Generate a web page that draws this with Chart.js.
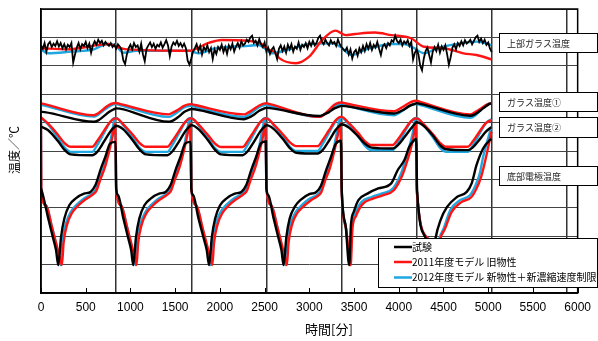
<!DOCTYPE html>
<html>
<head>
<meta charset="utf-8">
<script src="https://cdn.jsdelivr.net/npm/chart.js@4.4.1/dist/chart.umd.min.js"></script>
<style>
html, body { margin: 0; padding: 0; background: #fff; }
</style>
</head>
<body>
<canvas id="tempChart" width="598" height="341"></canvas>
<script>
// series / labels
const seriesNames = ['試験', '2011年度モデル 旧物性', '2012年度モデル 新物性＋新濃縮速度制限'];
const groupLabels = ['上部ガラス温度', 'ガラス温度①', 'ガラス温度②', '底部電極温度'];
const seriesColors = ['#000000', '#ff1414', '#1ea7e1'];
const cycleLines = [840, 1680, 2520, 3360, 4200, 5040, 5880];

// upper glass temperature
const topRedT = [0, 297, 628, 756, 848, 958, 1655, 1875, 2022, 2316, 2463, 2536, 2609, 2668, 2851, 2998, 3145, 3292, 3402, 3512, 3732, 3916, 4136, 4283, 4503, 4723, 4869, 5035];
const topRedV = [862, 858, 873, 877, 867, 858, 853, 881, 891, 888, 877, 858, 849, 826, 809, 832, 891, 924, 908, 912, 917, 908, 897, 867, 862, 844, 838, 823];
const topBlueT = [0, 77, 334, 591, 738, 829, 921, 1068, 1655, 1765, 1949, 2316, 2426, 2536, 2576, 2778, 2998, 3255, 3347, 3475, 3622, 3916, 4063, 4173, 4283, 4429, 4576, 4869, 5035];
const topBlueV = [858, 844, 850, 858, 877, 873, 846, 853, 853, 844, 862, 870, 873, 853, 844, 858, 877, 879, 867, 838, 856, 877, 877, 862, 844, 862, 873, 885, 873];
// measured values, one every 20 min
const topBlackStep = 20;
const topBlackV = [
  872, 860, 880, 850, 876, 884, 866, 878, 870, 886,
  868, 880, 862, 876, 858, 874, 866, 880, 812, 840,
  864, 880, 858, 876, 870, 884, 862, 878, 846, 872,
  886, 874, 892, 880, 888, 872, 884, 876, 870, 880,
  866, 874, 860, 876, 868, 856, 820, 806, 840, 862,
  874, 858, 880, 866, 872, 850, 878, 840, 816, 860,
  872, 882, 866, 878, 860, 874, 868, 882, 864, 876,
  890, 872, 834, 868, 882, 874, 888, 870, 880, 866,
  878, 862, 818, 804, 826, 850, 862, 876, 852, 870,
  840, 866, 854, 872, 848, 862, 824, 858, 842, 866,
  856, 874, 848, 866, 842, 872, 858, 878, 850, 868,
  880, 864, 886, 872, 878, 892, 884, 900, 906, 880,
  888, 872, 894, 876, 866, 882, 850, 864, 842, 858,
  866, 846, 824, 860, 872, 852, 868, 846, 874, 858,
  876, 850, 868, 860, 882, 856, 874, 866, 880, 862,
  884, 870, 888, 872, 880, 898, 906, 886, 876, 892,
  880, 872, 890, 878, 884, 870, 892, 876, 866, 858,
  852, 864, 840, 858, 826, 848, 856, 836, 862, 848,
  870, 852, 876, 860, 880, 856, 874, 864, 884, 860,
  838, 868, 876, 862, 880, 872, 890, 884, 906, 888,
  880, 892, 872, 886, 878, 890, 870, 884, 822, 846,
  858, 840, 800, 784, 826, 852, 864, 838, 812, 850,
  866, 852, 874, 846, 868, 856, 872, 842, 804, 830,
  864, 876, 858, 880, 870, 886, 872, 890, 878, 884,
  892, 876, 888, 900, 906, 884, 896, 880, 892, 874,
  882, 860, 848];

// glass temperature 1
const g1T = [0, 40, 590, 640, 700, 760, 810, 840, 880, 1430, 1480, 1540, 1600, 1650, 1680, 1720, 2270, 2320, 2380, 2440, 2490,
  2520, 2560, 3110, 3160, 3220, 3280, 3330, 3360, 3400, 3950, 4000, 4060, 4120, 4170, 4200, 4240, 4800, 4850, 4910, 4970, 5010, 5035];
const g1Black = [638, 637, 603, 608, 622, 637, 646, 650, 649, 603, 608, 621, 637, 645, 648, 647, 612, 617, 628, 642, 649,
  652, 651, 623, 628, 637, 650, 656, 659, 658, 632, 637, 646, 659, 665, 668, 666, 624, 629, 642, 657, 665, 668];
const g1Red = [668, 665, 626, 633, 648, 662, 668, 669, 666, 629, 636, 647, 659, 664, 665, 662, 629, 636, 648, 660, 667,
  668, 665, 620, 627, 645, 663, 670, 671, 668, 640, 647, 658, 670, 676, 677, 673, 629, 636, 648, 661, 667, 668];
const g1Blue = [663, 660, 621, 628, 643, 656, 664, 665, 662, 620, 627, 640, 653, 658, 659, 656, 620, 627, 641, 655, 661,
  662, 659, 620, 627, 642, 657, 663, 664, 661, 626, 633, 646, 659, 664, 665, 662, 617, 624, 642, 659, 667, 668];

// glass temperature 2
const g2T = [0, 77, 187, 260, 333, 573, 628, 702, 774, 829, 840, 917, 1027, 1100, 1173, 1413, 1468, 1542, 1614, 1669,
  1680, 1757, 1867, 1940, 2013, 2253, 2308, 2382, 2454, 2509, 2520, 2597, 2707, 2780, 2853, 3093, 3148, 3222, 3294, 3349,
  3360, 3437, 3547, 3620, 3693, 3933, 3988, 4062, 4134, 4189, 4200, 4277, 4387, 4460, 4533, 4773, 4828, 4902, 4974, 5035];
const g2Black = [586, 574, 536, 505, 488, 485, 497, 532, 568, 587, 589, 577, 537, 506, 488, 485, 498, 533, 570, 589,
  591, 578, 538, 506, 488, 485, 498, 533, 570, 589, 591, 579, 541, 511, 494, 491, 503, 537, 574, 592,
  594, 584, 551, 526, 512, 509, 520, 548, 578, 599, 601, 589, 552, 521, 506, 503, 513, 540, 568, 584];
const g2Red = [618, 597, 558, 529, 515, 515, 535, 570, 603, 615, 615, 595, 557, 529, 515, 515, 535, 570, 603, 615,
  615, 595, 556, 528, 514, 514, 534, 570, 603, 615, 615, 595, 558, 531, 517, 517, 538, 574, 608, 620,
  620, 600, 563, 535, 521, 521, 540, 573, 604, 615, 615, 595, 557, 529, 515, 515, 534, 568, 598, 609];
const g2Blue = [618, 594, 548, 514, 497, 497, 521, 562, 602, 616, 616, 592, 546, 512, 497, 497, 521, 562, 602, 616,
  616, 592, 546, 512, 497, 497, 521, 562, 602, 616, 616, 593, 549, 516, 500, 500, 524, 565, 604, 618,
  618, 595, 551, 519, 503, 503, 526, 565, 602, 616, 616, 592, 546, 512, 497, 497, 520, 560, 598, 612];

// bottom electrode temperature
const elBlackT = [0, 22, 77, 132, 168, 193, 224, 261, 316, 389, 481, 554, 609, 664, 719, 774, 835,
  840, 862, 917, 972, 1008, 1031, 1062, 1099, 1156, 1229, 1321, 1394, 1449, 1504, 1559, 1614, 1675,
  1680, 1702, 1757, 1815, 1853, 1879, 1910, 1947, 2002, 2075, 2167, 2240, 2295, 2350, 2405, 2460, 2515,
  2520, 2542, 2597, 2652, 2688, 2712, 2743, 2780, 2840, 2910, 3000, 3075, 3130, 3185, 3240, 3295, 3355,
  3362, 3405, 3446, 3465, 3500, 3549, 3650, 3770, 3916, 3989, 4063, 4118, 4173, 4195,
  4205, 4301, 4370, 4411, 4466, 4540, 4650, 4760, 4815, 4869, 4943, 5017, 5035];
const elBlackV = [368, 344, 268, 197, 151, 98, 197, 262, 309, 333, 350, 356, 380, 433, 479, 527, 532,
  368, 344, 268, 197, 151, 98, 197, 262, 309, 333, 350, 356, 380, 433, 479, 527, 532,
  368, 344, 268, 197, 151, 98, 197, 262, 309, 333, 350, 356, 380, 433, 479, 527, 534,
  368, 344, 268, 197, 151, 98, 197, 262, 305, 330, 348, 355, 378, 430, 477, 525, 536,
  369, 239, 98, 239, 288, 327, 350, 368, 386, 433, 468, 515, 538, 542,
  362, 193, 98, 193, 256, 303, 338, 356, 386, 450, 509, 538, 542];
const elRedT = [0, 4, 60, 120, 175, 215, 234, 252, 290, 345, 420, 500, 585, 620, 660, 715, 765, 800, 830,
  842, 900, 960, 1015, 1052, 1068, 1086, 1124, 1179, 1254, 1334, 1419, 1454, 1494, 1549, 1599, 1634, 1668,
  1682, 1742, 1802, 1857, 1897, 1916, 1934, 1972, 2027, 2102, 2182, 2267, 2302, 2342, 2397, 2447, 2482, 2508,
  2522, 2580, 2640, 2695, 2732, 2749, 2767, 2805, 2860, 2935, 3015, 3100, 3135, 3175, 3230, 3280, 3315, 3350,
  3362, 3412, 3462, 3482, 3520, 3595, 3710, 3820, 3945, 4035, 4075, 4130, 4165, 4192,
  4202, 4325, 4410, 4466, 4515, 4590, 4700, 4810, 4865, 4920, 4960, 5005, 5035];
const elRedV = [598, 362, 306, 235, 168, 119, 98, 175, 239, 281, 309, 330, 348, 360, 397, 443, 503, 552, 598,
  362, 306, 235, 168, 119, 98, 175, 239, 281, 309, 330, 348, 360, 397, 443, 503, 552, 598,
  362, 306, 235, 168, 119, 98, 175, 239, 281, 309, 330, 348, 360, 397, 443, 503, 552, 598,
  362, 306, 235, 168, 119, 98, 175, 239, 279, 305, 326, 343, 356, 394, 440, 500, 550, 598,
  358, 225, 98, 225, 270, 313, 332, 344, 362, 411, 446, 503, 552, 602,
  358, 193, 98, 193, 225, 285, 320, 337, 365, 408, 457, 521, 568];
const elBlueT = [0, 3, 58, 113, 168, 206, 222, 242, 279, 334, 407, 481, 573, 609, 646, 701, 756, 793, 826,
  841, 898, 953, 1005, 1042, 1057, 1077, 1114, 1169, 1242, 1316, 1408, 1444, 1481, 1536, 1591, 1628, 1666,
  1681, 1738, 1793, 1845, 1882, 1897, 1917, 1954, 2009, 2082, 2156, 2248, 2284, 2321, 2376, 2431, 2468, 2506,
  2521, 2578, 2633, 2685, 2720, 2734, 2754, 2791, 2846, 2919, 2993, 3085, 3121, 3158, 3213, 3268, 3305, 3346,
  3361, 3410, 3457, 3475, 3512, 3585, 3696, 3806, 3934, 4026, 4063, 4118, 4155, 4188,
  4201, 4319, 4400, 4455, 4503, 4576, 4686, 4796, 4851, 4906, 4943, 4998, 5035];
const elBlueV = [615, 368, 309, 245, 174, 121, 98, 186, 245, 286, 313, 333, 350, 362, 397, 440, 503, 563, 615,
  368, 309, 245, 174, 121, 98, 186, 245, 286, 313, 333, 350, 362, 397, 440, 503, 563, 615,
  368, 309, 245, 174, 121, 98, 186, 245, 286, 313, 333, 350, 362, 397, 440, 503, 563, 615,
  368, 309, 245, 174, 121, 98, 186, 245, 284, 310, 330, 345, 358, 394, 438, 500, 560, 615,
  369, 228, 98, 233, 280, 321, 338, 350, 368, 421, 456, 515, 562, 615,
  362, 193, 98, 193, 228, 292, 327, 344, 374, 421, 479, 544, 585];

function pts(t, v) {
  return v.map((y, i) => ({ x: t[i], y: y }));
}
function line(data, s, smooth, width) {
  return {
    label: seriesNames[s],
    data: data,
    borderColor: seriesColors[s],
    borderWidth: width || 2.4,
    pointRadius: 0,
    fill: false,
    cubicInterpolationMode: smooth ? 'monotone' : 'default',
    tension: 0
  };
}

const topBlackT = topBlackV.map((_, i) => i * topBlackStep);

const datasets = [
  line(pts(topBlackT, topBlackV), 0, false, 1.8),
  line(pts(g1T, g1Black), 0, true),
  line(pts(g2T, g2Black), 0, true),
  line(pts(elBlackT, elBlackV), 0, true),
  line(pts(topRedT, topRedV), 1, true),
  line(pts(g1T, g1Red), 1, true),
  line(pts(g2T, g2Red), 1, true),
  line(pts(elRedT, elRedV), 1, true),
  line(pts(topBlueT, topBlueV), 2, true),
  line(pts(g1T, g1Blue), 2, true),
  line(pts(g2T, g2Blue), 2, true),
  line(pts(elBlueT, elBlueV), 2, true)
];

// frame, inward ticks, label boxes, legend, titles
const decorations = {
  id: 'decorations',
  afterDatasetsDraw(chart) {
    const ctx = chart.ctx;
    const a = chart.chartArea;
    const x = chart.scales.x;
    ctx.save();
    ctx.strokeStyle = '#000';
    ctx.lineWidth = 1;
    x.ticks.forEach(t => {
      const px = Math.round(x.getPixelForValue(t.value)) + 0.5;
      ctx.beginPath();
      ctx.moveTo(px, a.bottom);
      ctx.lineTo(px, a.bottom - 5);
      ctx.stroke();
    });
    ctx.lineWidth = 1.5;
    ctx.strokeRect(a.left, a.top, a.right - a.left, a.bottom - a.top);
    ctx.restore();
  },
  afterDraw(chart) {
    const ctx = chart.ctx;
    ctx.save();
    const boxes = [[499, 33, 98, 19], [499, 92, 98, 19], [499, 117, 98, 20], [499, 166, 98, 19]];
    ctx.font = '9px "Noto Sans CJK JP"';
    ctx.textBaseline = 'middle';
    ctx.textAlign = 'left';
    boxes.forEach((b, i) => {
      ctx.fillStyle = '#fff';
      ctx.fillRect(b[0], b[1], b[2], b[3]);
      ctx.strokeStyle = '#000';
      ctx.lineWidth = 1;
      ctx.strokeRect(b[0] + 0.5, b[1] + 0.5, b[2], b[3]);
      ctx.fillStyle = '#222';
      ctx.fillText(groupLabels[i], b[0] + 8, b[1] + b[3] / 2 + 1);
    });

    // legend
    ctx.fillStyle = '#fff';
    ctx.fillRect(378, 238, 220, 49);
    ctx.strokeStyle = '#000';
    ctx.lineWidth = 1;
    ctx.strokeRect(378.5, 238.5, 219, 49);
    ctx.font = '10px "Noto Sans CJK JP"';
    [247, 262, 277.5].forEach((ly, i) => {
      ctx.strokeStyle = seriesColors[i];
      ctx.lineWidth = 2.5;
      ctx.beginPath();
      ctx.moveTo(394, ly);
      ctx.lineTo(412, ly);
      ctx.stroke();
      ctx.fillStyle = '#000';
      ctx.fillText(seriesNames[i], 412, ly);
    });

    // axis titles
    ctx.font = '13px "Noto Sans CJK JP"';
    ctx.textAlign = 'center';
    ctx.fillText('時間[分]', 329, 329);
    ctx.translate(14, 150);
    ctx.rotate(-Math.PI / 2);
    ctx.font = '12px "Noto Sans CJK JP"';
    ctx.fillText('温度／℃', 0, 0);
    ctx.restore();
  }
};

new Chart(document.getElementById('tempChart').getContext('2d'), {
  type: 'line',
  data: { datasets: datasets },
  options: {
    responsive: false,
    animation: false,
    layout: { padding: { left: 41, top: 9, right: 12, bottom: 0 } },
    scales: {
      x: {
        type: 'linear',
        min: 0,
        max: 6000,
        ticks: {
          stepSize: 500, color: '#000', padding: 7, maxRotation: 0,
          font: { family: 'Liberation Sans', size: 12 },
          callback: v => String(v)
        },
        grid: { display: false, drawTicks: false },
        border: { display: true, color: '#000', width: 1.5 },
        afterFit(scale) { scale.height = 48; }
      },
      x2: {
        type: 'linear',
        position: 'top',
        min: 0,
        max: 6000,
        afterBuildTicks(scale) { scale.ticks = cycleLines.map(v => ({ value: v })); },
        ticks: { display: false },
        grid: { color: '#333', lineWidth: 1.5, drawTicks: false },
        border: { display: false },
        afterFit(scale) { scale.height = 0; }
      },
      y: {
        min: 0,
        max: 1000,
        ticks: { display: false, stepSize: 100 },
        grid: { color: '#444', lineWidth: 1, drawTicks: false },
        border: { display: true, color: '#000', width: 1.5 },
        afterFit(scale) { scale.width = 0; }
      }
    },
    plugins: {
      legend: { display: false },
      tooltip: { enabled: false }
    }
  },
  plugins: [decorations]
});
</script>
</body>
</html>
